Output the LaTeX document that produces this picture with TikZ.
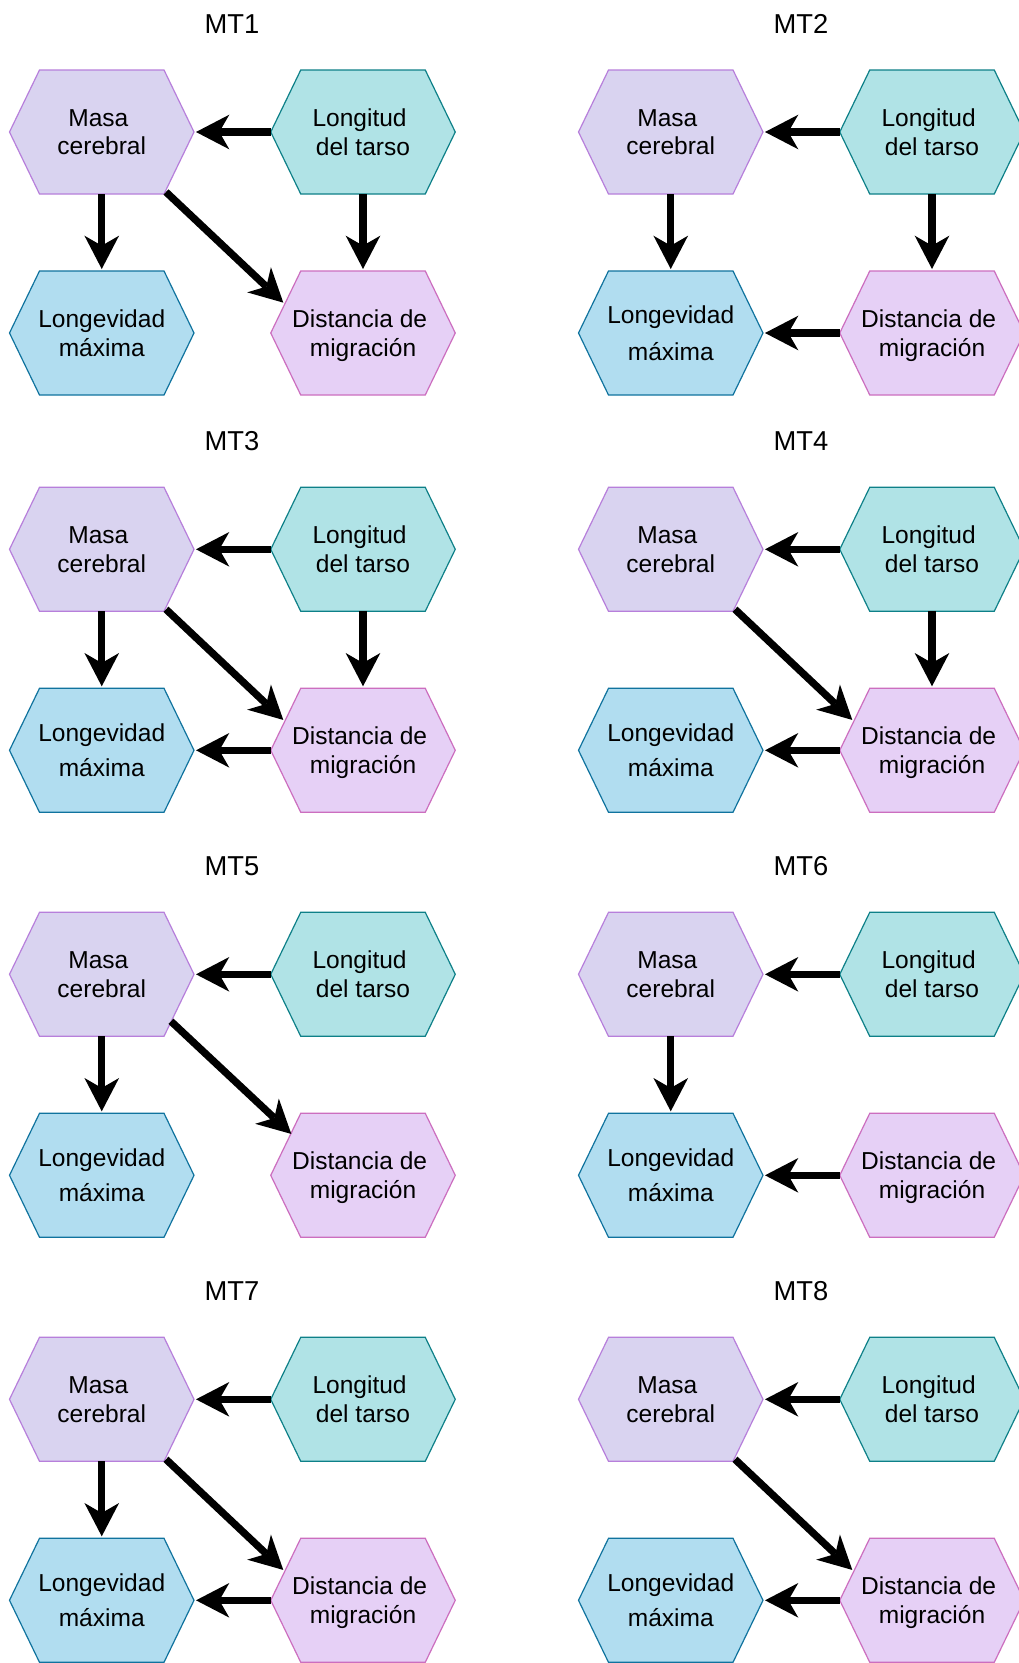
\documentclass[tikz,border=0pt]{standalone}
\usepackage{fontspec}
\setmainfont{Liberation Sans}
\usetikzlibrary{arrows.meta,calc}
\definecolor{masaF}{HTML}{D9D3F0}
\definecolor{masaD}{HTML}{B77FDB}
\definecolor{lonF}{HTML}{B0E3E6}
\definecolor{lonD}{HTML}{0E8088}
\definecolor{lvF}{HTML}{B1DDF0}
\definecolor{lvD}{HTML}{10739E}
\definecolor{disF}{HTML}{E6D0F6}
\definecolor{disD}{HTML}{CC6EBF}
\tikzset{
 hexbox/.style={rectangle, minimum width=138.375pt, minimum height=93pt, inner sep=0pt, outer sep=0pt, align=center, text depth=0pt, font=\fontsize{18.4}{21.6}\selectfont},
 hexline/.style={line width=0.9pt, line join=miter},
 ttl/.style={anchor=base, inner sep=0pt, font=\fontsize{20.5}{24}\selectfont},
 arr/.style={line width=5.5pt, shorten >=1.5pt, -{Stealth[length=25pt,width=26pt,inset=7.5pt,line width=0pt]}},
}
\newcommand\hexa[6]{%
 \draw[hexline, fill=#4, draw=#5] ({#2-92.25},{#3}) -- ({#2-62.25},{#3-62}) -- ({#2+62.25},{#3-62}) -- ({#2+92.25},{#3}) -- ({#2+62.25},{#3+62}) -- ({#2-62.25},{#3+62}) -- cycle;
 \node[hexbox] (#1) at ({#2},{#3}) {#6};}
\newcommand\panel[5]{%
 \node[ttl] (#1t) at ({#2+232},{#3-36.7}) {#4};
 \hexa{#1m}{#2+101.75}{#3+62}{masaF}{masaD}{Masa\kern0.278em\\cerebral}
 \hexa{#1l}{#2+363}{#3+62}{lonF}{lonD}{Longitud\kern0.278em\\del tarso}
 \hexa{#1v}{#2+101.75}{#3+263}{lvF}{lvD}{Longevidad\\[#5]máxima}
 \hexa{#1d}{#2+363}{#3+263}{disF}{disD}{Distancia de\kern0.278em\\migración}
}
\newcommand\LM[1]{\draw[arr] (#1l.west) -- (#1m.east);}
\newcommand\MV[1]{\draw[arr] (#1m.south) -- (#1v.north);}
\newcommand\LD[1]{\draw[arr] (#1l.south) -- (#1d.north);}
\newcommand\DV[1]{\draw[arr] (#1d.west) -- (#1v.east);}
\newcommand\MD[1]{\draw[arr] ($(#1m.south east)+(-28,-2)$) -- ($(#1d.north west)+(14,33)$);}
\begin{document}
\begin{tikzpicture}[x=0.75pt,y=-0.75pt]
\clip (0,0) rectangle (1019,1663);
\fill[white] (0,0) rectangle (1019,1663);
\panel{a}{0}{70}{MT1}{0pt}
\panel{b}{569}{70}{MT2}{6pt}
\panel{c}{0}{487.3}{MT3}{4.5pt}
\panel{d}{569}{487.3}{MT4}{4.5pt}
\panel{e}{0}{912.3}{MT5}{4.5pt}
\panel{f}{569}{912.3}{MT6}{4.5pt}
\panel{g}{0}{1337.3}{MT7}{4.5pt}
\panel{h}{569}{1337.3}{MT8}{4.5pt}
% MT1
\LM{a}\MV{a}\MD{a}\LD{a}
% MT2
\LM{b}\MV{b}\LD{b}\DV{b}
% MT3
\LM{c}\MV{c}\MD{c}\LD{c}\DV{c}
% MT4
\LM{d}\MD{d}\LD{d}\DV{d}
% MT5
\LM{e}\MV{e}
\draw[arr] ($(em.south east)+(-23,-15)$) -- ($(ed.north west)+(22,22)$);
% MT6
\LM{f}\MV{f}\DV{f}
% MT7
\LM{g}\MV{g}\MD{g}\DV{g}
% MT8
\LM{h}\MD{h}\DV{h}
\end{tikzpicture}
\end{document}
